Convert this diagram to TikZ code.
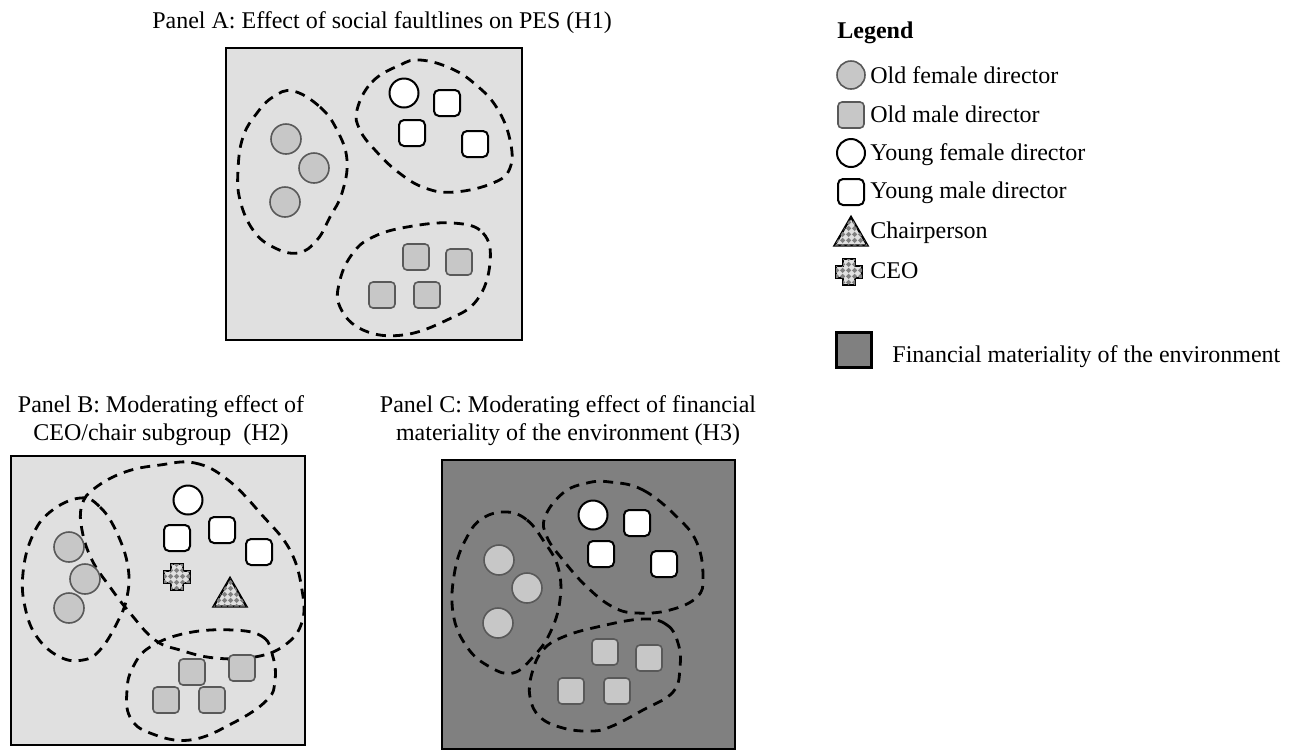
\documentclass[tikz,border=0pt]{standalone}
\usepackage{fontspec}
\setmainfont{Liberation Serif}
\usetikzlibrary{shapes.geometric,patterns}

\pgfdeclarepatternformonly{finechecks}{\pgfpointorigin}{\pgfqpoint{3pt}{3pt}}{\pgfqpoint{3pt}{3pt}}{%
  \pgfpathmoveto{\pgfqpoint{1.5pt}{0pt}}\pgfpathlineto{\pgfqpoint{3pt}{1.5pt}}%
  \pgfpathlineto{\pgfqpoint{1.5pt}{3pt}}\pgfpathlineto{\pgfqpoint{0pt}{1.5pt}}\pgfpathclose
  \pgfusepath{fill}}

\tikzset{
  oldfem/.style={circle, draw=black!65, line width=0.8pt, fill=black!22, minimum size=15pt, inner sep=0pt},
  oldmale/.style={rectangle, rounded corners=2pt, draw=black!65, line width=0.8pt, fill=black!22, minimum size=13pt, inner sep=0pt},
  youngfem/.style={circle, draw=black, line width=1pt, fill=white, minimum size=14.5pt, inner sep=0pt},
  youngmale/.style={rectangle, rounded corners=2.5pt, draw=black, line width=1pt, fill=white, minimum size=13pt, inner sep=0pt},
  chairtri/.style={regular polygon, regular polygon sides=3, draw=black, line width=1.1pt, fill=black!12,
    postaction={pattern=finechecks, pattern color=black!50}, minimum size=19pt, inner sep=0pt},
  faultline/.style={draw=black, line width=1.4pt, dash pattern=on 5pt off 3.6pt},
  panelbox/.style={draw=black, line width=1.2pt},
  txt/.style={font=\fontsize{12}{14}\selectfont, inner sep=0pt},
  ceo/.pic={
    \path[draw=black, line width=1.1pt, fill=black!12, postaction={pattern=finechecks, pattern color=black!50}]
      (-6,-13) -- (6,-13) -- (6,-6) -- (13,-6) -- (13,6) -- (6,6) -- (6,13) -- (-6,13)
      -- (-6,6) -- (-13,6) -- (-13,-6) -- (-6,-6) -- cycle;
  }
}

\begin{document}
\begin{tikzpicture}[x=0.5pt, y=-0.5pt]
  \useasboundingbox (0,0) rectangle (1290,752);

  % Panel A
  \node[txt, anchor=base] (titleA) at (382,28) {Panel A: Effect of social faultlines on PES (H1)};
  \draw[panelbox, fill=black!12] (226,48) rectangle (522,340);
  \draw[faultline] plot[smooth cycle, tension=0.7] coordinates {(293,91) (320,107) (337,130) (347,160) (342,193) (330,217) (317,240) (298,253) (273,247) (253,230) (240,200) (238,170) (243,137) (257,113) (273,97)};
  \draw[faultline] plot[smooth cycle, tension=0.7] coordinates {(357,110) (372,82) (400,65) (420,60) (450,68) (475,84) (497,108) (510,140) (510,168) (493,183) (455,192) (425,188) (398,172) (375,150) (360,130)};
  \draw[faultline] plot[smooth cycle, tension=0.7] coordinates {(453,223) (483,233) (490,263) (477,300) (447,320) (403,335) (363,330) (340,307) (340,280) (353,253) (373,237) (407,227)};
  \node[oldfem] (a1) at (286,139) {};
  \node[oldfem] (a2) at (314,168) {};
  \node[oldfem] (a3) at (285,202) {};
  \node[youngfem] (a4) at (404,93) {};
  \node[youngmale] (a5) at (447,103) {};
  \node[youngmale] (a6) at (412,133) {};
  \node[youngmale] (a7) at (475,144) {};
  \node[oldmale] (a8) at (416,257) {};
  \node[oldmale] (a9) at (459,262) {};
  \node[oldmale] (a10) at (382,295) {};
  \node[oldmale] (a11) at (427,295) {};

  % Panel B
  \node[txt, anchor=base] (titleB1) at (161,412) {Panel B: Moderating effect of};
  \node[txt, anchor=base] (titleB2) at (161,440) {CEO/chair subgroup\ \ (H2)};
  \draw[panelbox, fill=black!12] (11,456) rectangle (305,745);
  \draw[faultline] plot[smooth cycle, tension=0.7] coordinates {(80,498) (100,507) (117,533) (128,567) (127,597) (117,623) (100,650) (83,660) (60,657) (37,637) (25,607) (23,573) (32,537) (50,512)};
  \draw[faultline] plot[smooth cycle, tension=0.7] coordinates {(160,465) (195,463) (228,480) (262,515) (290,550) (302,590) (302,622) (285,645) (255,657) (215,658) (180,650) (155,640) (130,613) (110,587) (92,560) (82,530) (82,505) (95,488) (125,472)};
  \draw[faultline] plot[smooth cycle, tension=0.7] coordinates {(233,630) (263,637) (273,657) (275,680) (267,700) (233,723) (190,740) (150,733) (130,717) (127,690) (133,667) (150,647) (187,633)};
  \node[oldfem] (b1) at (69,547) {};
  \node[oldfem] (b2) at (85,579) {};
  \node[oldfem] (b3) at (69,608) {};
  \node[youngfem] (b4) at (188,500) {};
  \node[youngmale] (b5) at (177,538) {};
  \node[youngmale] (b6) at (222,530) {};
  \node[youngmale] (b7) at (259,552) {};
  \pic (ceoB) at (177,577) {ceo};
  \node[chairtri] (chairB) at (230,597) {};
  \node[oldmale] (b8) at (192,672) {};
  \node[oldmale] (b9) at (242,668) {};
  \node[oldmale] (b10) at (166,700) {};
  \node[oldmale] (b11) at (212,700) {};

  % Panel C
  \node[txt, anchor=base] (titleC1) at (568,412) {Panel C: Moderating effect of financial};
  \node[txt, anchor=base] (titleC2) at (568,440) {materiality of the environment (H3)};
  \draw[panelbox, fill=black!50] (442,460) rectangle (735,749);
  \draw[faultline] plot[smooth cycle, tension=0.7] coordinates {(507,512) (527,520) (543,540) (558,567) (560,600) (550,633) (533,657) (513,673) (490,667) (467,647) (453,613) (455,570) (467,537) (483,518)};
  \draw[faultline] plot[smooth cycle, tension=0.7] coordinates {(610,482) (643,490) (677,517) (697,543) (703,577) (697,597) (670,610) (637,613) (613,607) (587,587) (563,560) (547,537) (545,517) (563,493) (587,483)};
  \draw[faultline] plot[smooth cycle, tension=0.7] coordinates {(643,619) (667,625) (678,643) (680,667) (673,692) (643,710) (610,727) (590,731) (563,728) (540,717) (530,697) (532,673) (543,650) (563,637) (597,627)};
  \node[oldfem] (c1) at (499,560) {};
  \node[oldfem] (c2) at (527,588) {};
  \node[oldfem] (c3) at (498,623) {};
  \node[youngfem] (c4) at (593,515) {};
  \node[youngmale] (c5) at (637,523) {};
  \node[youngmale] (c6) at (601,554) {};
  \node[youngmale] (c7) at (664,564) {};
  \node[oldmale] (c8) at (605,652) {};
  \node[oldmale] (c9) at (649,658) {};
  \node[oldmale] (c10) at (571,691) {};
  \node[oldmale] (c11) at (617,691) {};

  % Legend
  \node[txt, anchor=base west, font=\fontsize{12}{14}\selectfont\bfseries] (legtitle) at (837,38) {Legend};
  \node[oldfem, minimum size=14pt] (keyoldfem) at (851,75) {};
  \node[txt, anchor=base west] (txtoldfem) at (870,83) {Old female director};
  \node[oldmale] (keyoldmale) at (851,115) {};
  \node[txt, anchor=base west] (txtoldmale) at (870,122) {Old male director};
  \node[youngfem, minimum size=14pt] (keyyoungfem) at (851,153) {};
  \node[txt, anchor=base west] (txtyoungfem) at (870,160) {Young female director};
  \node[youngmale] (keyyoungmale) at (851,192) {};
  \node[txt, anchor=base west] (txtyoungmale) at (870,198) {Young male director};
  \node[chairtri] (keychair) at (851,236) {};
  \node[txt, anchor=base west] (txtchair) at (870,238) {Chairperson};
  \pic (keyceo) at (849,272) {ceo};
  \node[txt, anchor=base west] (txtceo) at (870,278) {CEO};
  \node[draw=black, line width=1.3pt, fill=black!50, minimum size=17.5pt, inner sep=0pt] (keyfin) at (854,350) {};
  \node[txt, anchor=base west] (txtfin) at (892,362) {Financial materiality of the environment};
\end{tikzpicture}
\end{document}
